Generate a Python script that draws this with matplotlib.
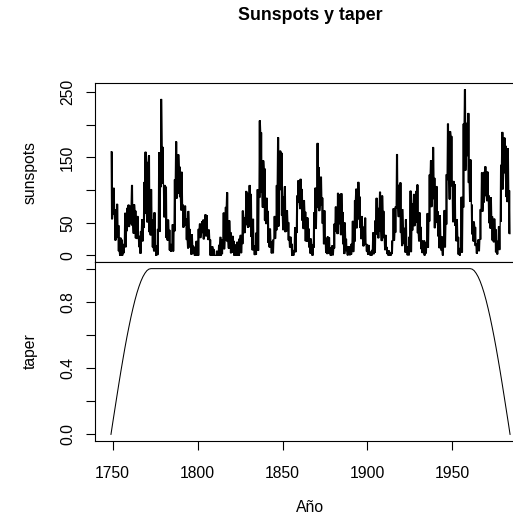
import numpy as np
import matplotlib
matplotlib.use("Agg")
import matplotlib.pyplot as plt

plt.rcParams['font.family'] = ['Liberation Sans', 'DejaVu Sans']

# Monthly sunspot numbers summarised per calendar year (lowest and highest month)
first_year = 1749
sunspot_high = [
    158.6, 103.0, 70.0, 78.4, 45.7, 26.7, 23.7, 17.0, 64.7, 72.3,
    77.2, 75.6, 107.2, 77.8, 68.1, 59.7, 29.7, 36.6, 54.7, 111.8,
    158.2, 142.5, 152.7, 100.9, 54.6, 65.4, 15.1, 40.0, 157.3, 238.9,
    165.7, 107.2, 104.7, 54.3, 38.7, 17.0, 47.2, 116.0, 174.0, 154.2,
    135.5, 127.5, 77.2, 75.7, 56.0, 67.4, 39.9, 31.7, 14.4, 12.5,
    21.7, 40.1, 48.2, 51.8, 54.3, 62.3, 61.0, 39.0, 23.8, 13.5,
    9.2, 0.0, 6.6, 15.6, 27.8, 23.8, 65.0, 73.7, 96.2, 53.1,
    35.0, 29.3, 21.5, 16.1, 20.4, 25.2, 30.9, 68.1, 57.8, 98.0,
    95.0, 107.1, 93.4, 55.5, 14.9, 34.5, 100.8, 206.2, 188.0, 144.9,
    132.7, 87.7, 67.4, 40.5, 21.1, 23.9, 59.7, 107.1, 180.4, 159.9,
    156.7, 89.4, 105.4, 68.4, 50.4, 28.2, 17.4, 7.7, 42.4, 91.2,
    114.6, 116.7, 101.0, 84.0, 66.4, 57.5, 40.6, 25.3, 16.6, 65.4,
    103.2, 171.6, 134.4, 120.0, 88.0, 68.4, 26.4, 28.4, 27.3, 11.9,
    15.0, 48.2, 74.2, 95.2, 93.1, 94.6, 65.8, 49.8, 25.0, 13.3,
    13.2, 17.4, 52.3, 84.0, 101.6, 112.0, 89.6, 59.6, 43.5, 57.3,
    17.1, 15.5, 5.4, 7.8, 34.7, 53.0, 87.6, 72.2, 97.0, 91.1,
    67.6, 30.9, 12.4, 7.1, 3.8, 22.3, 71.6, 74.5, 154.5, 107.6,
    111.2, 70.2, 41.9, 54.7, 13.2, 28.1, 98.6, 79.4, 93.5, 98.0,
    108.0, 65.3, 43.1, 22.2, 22.2, 19.7, 64.2, 123.4, 145.1, 165.3,
    118.3, 105.5, 66.9, 60.7, 28.9, 28.4, 68.8, 123.8, 201.3, 189.7,
    182.3, 113.4, 108.5, 54.9, 27.8, 10.9, 89.2, 201.3, 253.8, 202.5,
    217.4, 146.3, 77.4, 51.3, 43.0, 17.7, 24.1, 70.4, 126.4, 127.2,
    135.8, 127.8, 91.3, 88.4, 59.3, 55.8, 39.7, 21.9, 44.0, 138.2,
    188.4, 179.9, 167.3, 163.6, 99.2,
]
sunspot_low = [
    55.7, 63.3, 23.2, 27.1, 6.7, 0.0, 0.0, 3.6, 12.8, 37.6,
    44.0, 48.3, 46.0, 33.8, 26.5, 25.7, 13.0, 3.0, 21.9, 42.7,
    64.2, 51.0, 36.0, 31.1, 12.7, 6.6, 0.0, 1.0, 36.5, 105.0,
    110.0, 58.7, 27.3, 23.2, 8.0, 6.0, 6.5, 37.2, 87.4, 94.7,
    89.7, 69.3, 43.0, 45.8, 24.0, 11.1, 12.6, 1.5, 3.0, 0.0,
    0.0, 0.0, 27.0, 34.5, 25.0, 29.8, 29.4, 24.0, 0.0, 0.0,
    0.0, 0.0, 0.0, 0.0, 0.0, 2.3, 9.8, 23.2, 21.2, 10.9,
    3.7, 4.5, 0.0, 0.0, 0.0, 0.0, 3.8, 17.7, 34.6, 46.6,
    43.0, 43.9, 28.9, 8.2, 1.0, 1.4, 7.5, 88.6, 96.3, 73.6,
    53.8, 48.5, 19.8, 12.6, 3.5, 3.7, 25.7, 38.7, 44.7, 100.3,
    61.3, 39.1, 36.1, 37.5, 23.4, 12.6, 0.0, 0.0, 5.2, 34.9,
    81.0, 71.4, 53.7, 40.9, 22.0, 21.6, 12.7, 3.3, 0.0, 12.3,
    41.1, 73.2, 68.3, 77.2, 48.9, 17.5, 4.3, 2.5, 3.5, 0.0,
    0.5, 11.1, 36.5, 33.2, 48.2, 31.5, 17.6, 2.7, 7.1, 0.4,
    0.6, 1.6, 5.6, 21.4, 41.9, 55.6, 42.9, 25.4, 14.3, 16.9,
    6.3, 1.4, 0.3, 0.0, 2.2, 4.5, 32.6, 26.6, 37.2, 22.5,
    26.9, 8.5, 2.6, 0.0, 0.0, 2.6, 23.0, 35.2, 71.9, 59.2,
    34.9, 14.8, 17.8, 4.7, 0.5, 0.5, 5.5, 38.5, 45.2, 50.3,
    34.4, 21.9, 10.0, 4.0, 0.2, 3.4, 12.2, 52.3, 74.4, 86.5,
    42.1, 50.5, 29.5, 11.4, 7.6, 0.3, 12.7, 47.6, 115.7, 86.1,
    106.2, 51.3, 45.8, 22.0, 1.6, 0.2, 4.9, 73.6, 130.2, 152.3,
    111.4, 82.8, 32.6, 21.8, 14.9, 3.1, 6.8, 24.4, 67.3, 81.2,
    91.3, 83.5, 49.8, 41.6, 23.1, 20.5, 5.1, 1.9, 8.7, 51.9,
    101.5, 126.2, 90.0, 82.2, 33.3,
]

# Taper weights: quarter-sine rise and fall over the first and last 10%
taper_years = [
    1749.000, 1750.175, 1751.350, 1752.525, 1753.700, 1754.875, 1756.050,
    1757.225, 1758.400, 1759.575, 1760.750, 1761.925, 1763.100, 1764.275,
    1765.450, 1766.625, 1767.800, 1768.975, 1770.150, 1771.325, 1772.500,
    1960.417, 1961.592, 1962.767, 1963.942, 1965.117, 1966.292, 1967.467,
    1968.642, 1969.817, 1970.992, 1972.167, 1973.342, 1974.517, 1975.692,
    1976.867, 1978.042, 1979.217, 1980.392, 1981.567, 1982.742, 1983.917,
]
taper_values = [
    0.000, 0.079, 0.156, 0.233, 0.309, 0.383, 0.454, 0.523, 0.588, 0.649,
    0.707, 0.760, 0.809, 0.853, 0.891, 0.924, 0.951, 0.972, 0.988, 0.997,
    1.000,
    1.000, 0.997, 0.988, 0.972, 0.951, 0.924, 0.891, 0.853, 0.809, 0.760,
    0.707, 0.649, 0.588, 0.523, 0.454, 0.383, 0.309, 0.233, 0.156, 0.079,
    0.000,
]

year_ticks = [1750, 1800, 1850, 1900, 1950]
sun_ticks = [0, 50, 100, 150, 200, 250]
sun_labels = ['0', '50', '', '150', '', '250']
taper_ticks = [0.0, 0.2, 0.4, 0.6, 0.8, 1.0]
taper_labels = ['0.0', '', '0.4', '', '0.8', '']

# trace each year's monthly range (high/low) twice so the line fills the band
years = np.arange(first_year, first_year + len(sunspot_high))
hi = np.array(sunspot_high)
lo = np.array(sunspot_low)
even = (years - first_year) % 2 == 0
a = np.where(even, hi, lo)
b = np.where(even, lo, hi)
xs = np.column_stack([years + 0.125, years + 0.375,
                      years + 0.625, years + 0.875]).ravel()
ys = np.column_stack([a, b, a, b]).ravel()

W, H = 513, 515
fig = plt.figure(figsize=(W / 100, H / 100), dpi=100)

left, right = 95, 526
ax1 = fig.add_axes([left / W, 1 - 262 / H, (right - left) / W, 179 / H])
ax2 = fig.add_axes([left / W, 1 - 441 / H, (right - left) / W, 179 / H])

fs = 11.3
for ax in (ax1, ax2):
    for s in ax.spines.values():
        s.set_linewidth(0.8)
        s.set_color('black')
    ax.set_xlim(1739.6, 1993.3)
    ax.tick_params(length=6.8, width=0.8, labelsize=fs, color='black')

ax1.plot(xs, ys, color='black', linewidth=0.9)
ax1.set_ylim(-10.15, 263.95)
ax1.set_xticks([])
ax1.set_yticks(sun_ticks)
ax1.set_yticklabels(sun_labels)

ax2.plot(taper_years, taper_values, color='black', linewidth=0.75)
ax2.set_ylim(-0.04, 1.04)
ax2.set_yticks(taper_ticks)
ax2.set_yticklabels(taper_labels)
ax2.set_xticks(year_ticks)
ax2.set_xticklabels([str(y) for y in year_ticks])
ax2.tick_params(axis='x', pad=11.5)

for ax in (ax1, ax2):
    ax.tick_params(axis='y', pad=7.5)
    for lab in ax.get_yticklabels():
        lab.set_rotation(90)
        lab.set_va('center')
        lab.set_ha('right')

cx = (left + right) / 2 / W
fig.text(cx, 1 - 16 / H, 'Sunspots y taper', ha='center', va='center',
         fontsize=12.8, fontweight='bold')
fig.text(30 / W, 1 - 172.5 / H, 'sunspots', rotation=90, ha='center',
         va='center', fontsize=fs)
fig.text(30 / W, 1 - 351.5 / H, 'taper', rotation=90, ha='center',
         va='center', fontsize=fs)
fig.text(cx, 1 - 508 / H, 'Año', ha='center', va='center', fontsize=fs)

fig.savefig('out.png', dpi=100)
